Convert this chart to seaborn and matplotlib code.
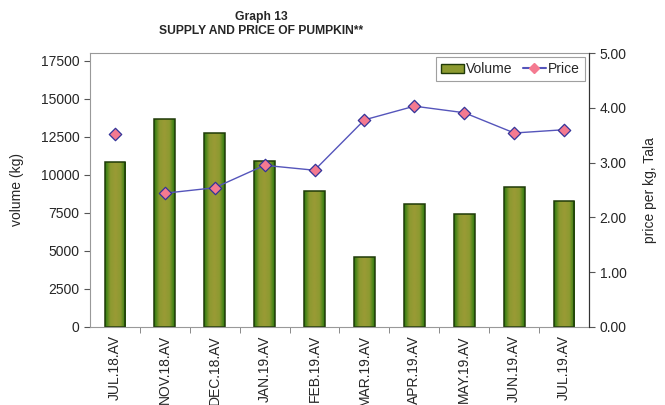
import numpy as np
import pandas as pd
import matplotlib
matplotlib.use("Agg")
import matplotlib.pyplot as plt
import seaborn as sns
from matplotlib.patches import Patch
from matplotlib.lines import Line2D
from matplotlib.colors import LinearSegmentedColormap

months = ["JUL.18.AV", "NOV.18.AV", "DEC.18.AV", "JAN.19.AV", "FEB.19.AV",
          "MAR.19.AV", "APR.19.AV", "MAY.19.AV", "JUN.19.AV", "JUL.19.AV"]
volume = [10850, 13670, 12730, 10920, 8920, 4620, 8070, 7390, 9180, 8290]
price = [3.52, 2.44, 2.54, 2.95, 2.86, 3.78, 4.03, 3.91, 3.54, 3.60]

sns.set_style("white")
plt.rcParams['font.family'] = ['Liberation Sans', 'DejaVu Sans']

df = pd.DataFrame({"month": months, "volume": volume, "price": price})

fig = plt.figure(figsize=(6.65, 4.05), dpi=100)
ax = fig.add_axes([0.135, 0.193, 0.751, 0.676])

sns.barplot(data=df, x="month", y="volume", ax=ax, width=0.41,
            color="#8F9A2E", edgecolor="#1F3A08", linewidth=1.1)

# excel style gradient: green edges, olive middle
grad_cmap = LinearSegmentedColormap.from_list(
    "pump", ["#2A7A0E", "#8C9A30", "#9A9A35", "#8C9A30", "#2A7A0E"])
grad = np.linspace(0, 1, 64).reshape(1, -1)
for p in ax.patches:
    x0, y0 = p.get_x(), p.get_y()
    w, h = p.get_width(), p.get_height()
    im = ax.imshow(grad, cmap=grad_cmap, aspect="auto",
                   extent=[x0, x0 + w, y0, y0 + h], zorder=p.get_zorder() - 0.1)
    im.set_clip_path(p)
    p.set_facecolor("none")

ax.set_xlim(-0.5, len(months) - 0.5)
ax.set_ylim(0, 18000)
ax.set_yticks(np.arange(0, 17501, 2500))
ax.tick_params(axis="y", direction="out", length=4, left=True, labelsize=10, color="#555555")
ax.set_xticks(range(len(months)))
ax.set_xticklabels(months, rotation=90, fontsize=10)
ax.set_xticks(np.arange(0.5, len(months) - 0.5, 1), minor=True)
ax.tick_params(axis="x", which="major", length=0, pad=6)
ax.tick_params(axis="x", which="minor", direction="out", length=4, bottom=True, color="#777777")
ax.set_xlabel("")
ax.set_ylabel("volume (kg)", fontsize=10, labelpad=12)
for s in ["left", "top", "bottom"]:
    ax.spines[s].set_color("#999999")

ax2 = ax.twinx()
ax2.set_ylim(0, 5)
ax2.set_yticks(np.arange(0, 5.01, 1))
ax2.set_yticklabels([f"{v:.2f}" for v in np.arange(0, 5.01, 1)])
ax2.tick_params(axis="y", direction="out", length=4, right=True, labelsize=10, color="#555555")
ax2.spines["right"].set_color("#333333")
for s in ["left", "top", "bottom"]:
    ax2.spines[s].set_visible(False)
ax2.set_ylabel("price per kg, Tala", fontsize=10, labelpad=12)

pos = np.arange(len(months))
line_df = pd.DataFrame({"pos": pos[1:], "price": price[1:]})
sns.lineplot(data=line_df, x="pos", y="price", ax=ax2, color="#5555BB",
             linewidth=1.0, zorder=3)
ax2.scatter(pos, price, marker="D", s=40, color="#F47A90",
            edgecolor="#333399", linewidth=0.9, zorder=4)
ax2.set_xlabel("")

handles = [Patch(facecolor="#8C9A30", edgecolor="#1F3A08", label="Volume"),
           Line2D([0], [0], color="#5555BB", marker="D", markersize=5,
                  markerfacecolor="#F47A90", markeredgecolor="#F47A90", label="Price")]
leg = ax2.legend(handles=handles, loc="upper right", ncol=2, fontsize=10,
                 frameon=True, fancybox=False, borderaxespad=0.3,
                 handlelength=1.7, handleheight=0.6, handletextpad=0.15,
                 columnspacing=0.7, borderpad=0.35)
leg.get_frame().set_edgecolor("#888888")
leg.get_frame().set_linewidth(0.8)

fig.text(0.393, 0.972, "Graph 13\nSUPPLY AND PRICE OF PUMPKIN**", fontsize=8.7,
         fontweight="bold", ha="center", va="top", linespacing=1.2)

fig.savefig("out.png", dpi=100)
